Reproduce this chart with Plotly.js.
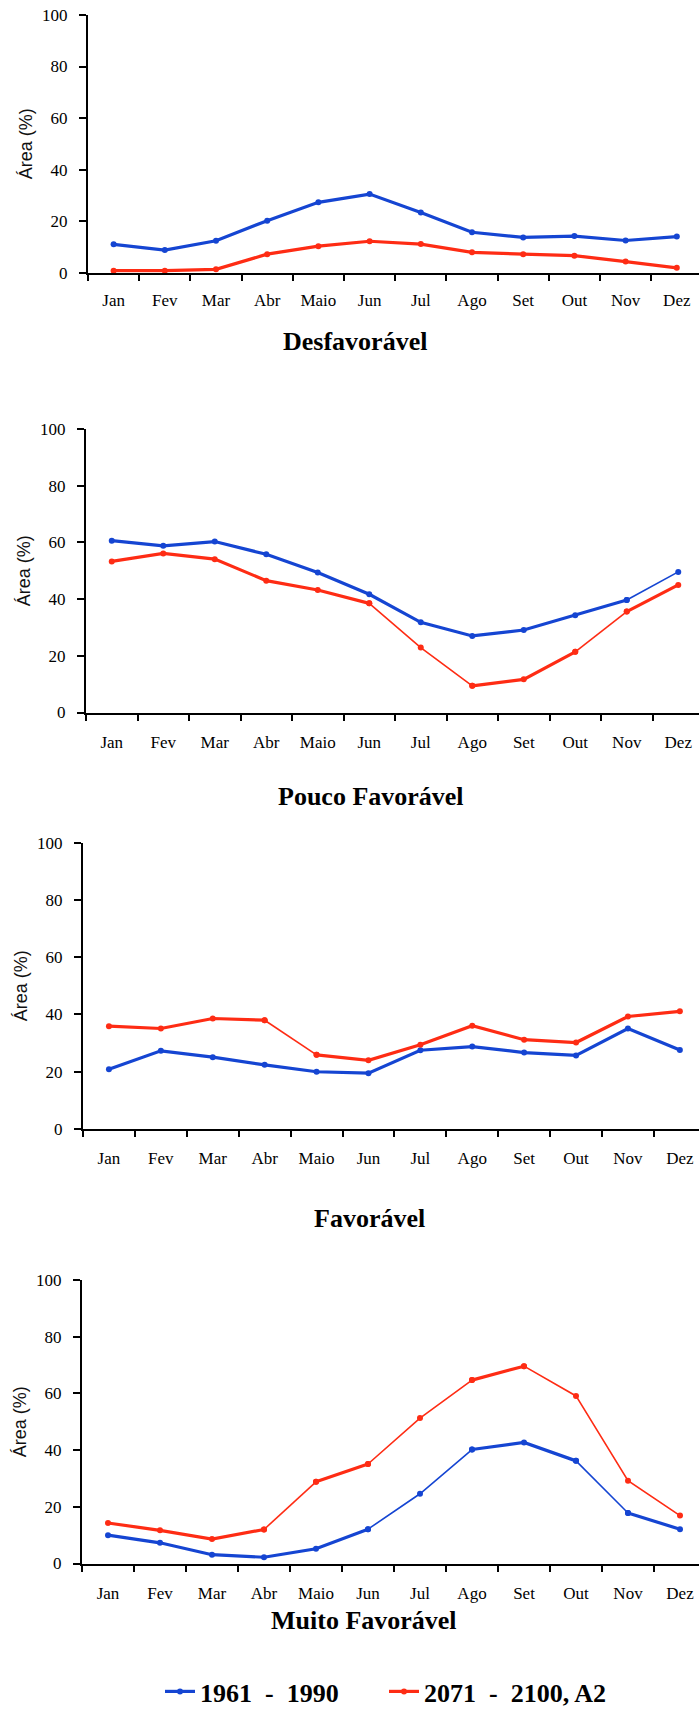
<!DOCTYPE html>
<html><head><meta charset="utf-8">
<script src="https://cdn.plot.ly/plotly-3.0.1.min.js"></script>
<style>html,body{margin:0;padding:0;background:#fff}#chart{width:699px;height:1715px}</style>
</head><body><div id="chart"></div>
<script>
// ---- data ----
const months = ['Jan','Fev','Mar','Abr','Maio','Jun','Jul','Ago','Set','Out','Nov','Dez'];
const seriesNames = ['1961\u00a0\u00a0-\u00a0\u00a01990', '2071\u00a0\u00a0-\u00a0\u00a02100, A2'];
const panelTitles = ['Desfavorável','Pouco Favorável','Favorável','Muito Favorável'];
const yTitle = 'Área (%)';
const desfavoravel_1961_1990 = [11.0, 8.8, 12.4, 20.2, 27.3, 30.5, 23.4, 15.7, 13.7, 14.2, 12.5, 14.0];
const desfavoravel_2071_2100 = [0.8, 0.8, 1.3, 7.2, 10.3, 12.2, 11.1, 7.9, 7.2, 6.6, 4.3, 1.9];
const poucoFavoravel_1961_1990 = [60.6, 58.8, 60.3, 55.8, 49.4, 41.7, 31.8, 27.0, 29.1, 34.3, 39.7, 49.6];
const poucoFavoravel_2071_2100 = [53.3, 56.1, 54.1, 46.5, 43.2, 38.5, 22.9, 9.4, 11.7, 21.4, 35.6, 45.0];
const favoravel_1961_1990 = [20.9, 27.3, 25.1, 22.4, 20.0, 19.5, 27.5, 28.8, 26.7, 25.7, 35.1, 27.6];
const favoravel_2071_2100 = [35.9, 35.1, 38.6, 38.0, 25.9, 24.0, 29.4, 36.1, 31.2, 30.2, 39.3, 41.1];
const muitoFavoravel_1961_1990 = [10.0, 7.3, 3.1, 2.2, 5.2, 12.1, 24.6, 40.2, 42.7, 36.2, 17.8, 12.1];
const muitoFavoravel_2071_2100 = [14.3, 11.7, 8.6, 12.0, 28.8, 35.1, 51.3, 64.7, 69.6, 59.1, 29.2, 16.9];

// ---- styling / layout geometry (px) ----
const W = 699, H = 1715;
const axisLeft = [88, 86, 83, 82];
const bandW = [51.2, 51.5, 51.9, 52];
const plotTop = [15, 429, 842.7, 1280];
const plotBottom = [272.7, 712.5, 1129, 1563.5];
const labelStandoff = [11, 13, 13, 13];
const titlePos = [[355, 342], [371, 796], [369, 1218], [364, 1620]];
const colors = ['#1545d2', '#fe2c14'];
const thickW = 3.2, thinW = 1.6;
// segments (index k = month k -> k+1) drawn thin in the original figure
const thinSegs = [
  [[], []],
  [[10], [5, 6, 9]],
  [[], [3]],
  [[5, 6, 9], [3, 5, 6, 8, 9, 10]]
];

const panels = [
  [desfavoravel_1961_1990, desfavoravel_2071_2100],
  [poucoFavoravel_1961_1990, poucoFavoravel_2071_2100],
  [favoravel_1961_1990, favoravel_2071_2100],
  [muitoFavoravel_1961_1990, muitoFavoravel_2071_2100]
];

const traces = [];
const layout = {
  width: W, height: H,
  margin: {l: 0, r: 0, t: 0, b: 0},
  paper_bgcolor: '#fff', plot_bgcolor: '#fff',
  showlegend: true,
  legend: {
    orientation: 'h', x: 160 / W, xanchor: 'left', y: 0, yanchor: 'bottom',
    font: {family: 'Liberation Serif', size: 26, color: '#000', weight: 'bold'},
    bgcolor: 'rgba(0,0,0,0)', itemwidth: 30, tracegroupgap: 0,
    entrywidth: 179, entrywidthmode: 'pixels'
  },
  annotations: [],
  font: {family: 'Liberation Serif', color: '#000'}
};

panels.forEach((pair, i) => {
  const n = i === 0 ? '' : String(i + 1);
  pair.forEach((vals, j) => {
    // split the series into runs of equal line width
    const thin = thinSegs[i][j];
    let start = 0;
    let runIdx = 0;
    for (let k = 0; k < vals.length - 1; k++) {
      const isThin = thin.includes(k);
      const nextDiffers = (k === vals.length - 2) || (thin.includes(k + 1) !== isThin);
      if (nextDiffers) {
        traces.push({
          type: 'scatter', mode: 'lines+markers',
          x: months.slice(start, k + 2), y: vals.slice(start, k + 2),
          xaxis: 'x' + n, yaxis: 'y' + n,
          name: seriesNames[j], legendgroup: 's' + j,
          showlegend: i === 0 && runIdx === 0,
          line: {color: colors[j], width: isThin ? thinW : thickW},
          marker: {color: colors[j], size: 6},
          cliponaxis: false, hoverinfo: 'skip'
        });
        runIdx++;
        start = k + 1;
      }
    }
  });
  layout['xaxis' + n] = {
    type: 'category', categoryorder: 'array', categoryarray: months,
    domain: [axisLeft[i] / W, 1],
    range: [-0.5, -0.5 + (W - axisLeft[i]) / bandW[i]],
    anchor: 'y' + n,
    showline: true, linecolor: '#000', linewidth: 2,
    ticks: 'outside', tickson: 'boundaries', ticklen: 6, tickwidth: 2, tickcolor: '#000',
    tickfont: {family: 'Liberation Serif', size: 17, color: '#000'},
    ticklabelstandoff: labelStandoff[i],
    showgrid: false, zeroline: false, fixedrange: true
  };
  layout['yaxis' + n] = {
    domain: [1 - plotBottom[i] / H, 1 - plotTop[i] / H],
    range: [0, 100], tick0: 0, dtick: 20,
    anchor: 'x' + n,
    showline: true, linecolor: '#000', linewidth: 2,
    ticks: 'outside', ticklen: 7, tickwidth: 2, tickcolor: '#000',
    tickfont: {family: 'Liberation Serif', size: 17, color: '#000'},
    ticklabelstandoff: 8,
    title: {text: yTitle, font: {family: 'Liberation Sans', size: 18, color: '#111'}, standoff: 5},
    showgrid: false, zeroline: false, fixedrange: true
  };
  layout.annotations.push({
    text: panelTitles[i], xref: 'paper', yref: 'paper',
    x: titlePos[i][0] / W, y: 1 - titlePos[i][1] / H,
    xanchor: 'center', yanchor: 'middle', showarrow: false,
    font: {family: 'Liberation Serif', size: 26, color: '#000', weight: 'bold'}
  });
});

Plotly.newPlot('chart', traces, layout, {displayModeBar: false, staticPlot: true});
</script>
</body></html>
